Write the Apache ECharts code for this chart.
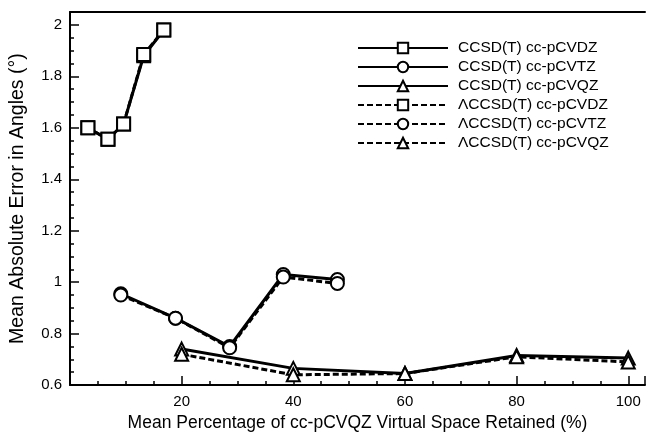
<!DOCTYPE html>
<html>
<head>
<meta charset="utf-8">
<script src="https://cdn.jsdelivr.net/npm/echarts@6/dist/echarts.min.js"></script>
<style>html,body{margin:0;padding:0;background:#fff}#c{width:648px;height:437px}</style>
</head>
<body>
<div id="c"></div>
<script>
var xTicks = [20, 40, 60, 80, 100];
var yTicks = [0.6, 0.8, 1, 1.2, 1.4, 1.6, 1.8, 2];

var dzX = [3.2, 6.8, 9.6, 13.2, 16.8];
var ccsdDZ = [1.60, 1.555, 1.615, 1.88, 1.98];
var lccsdDZ = [1.60, 1.555, 1.615, 1.885, 1.98];

var tzX = [9.1, 18.9, 28.6, 38.2, 47.9];
var ccsdTZ = [0.955, 0.86, 0.75, 1.03, 1.01];
var lccsdTZ = [0.95, 0.86, 0.745, 1.02, 0.995];

var qzX = [20, 40, 60, 80, 100];
var ccsdQZ = [0.74, 0.665, 0.645, 0.715, 0.705];
var lccsdQZ = [0.72, 0.64, 0.645, 0.71, 0.69];

var names = ['CCSD(T) cc-pCVDZ', 'CCSD(T) cc-pCVTZ', 'CCSD(T) cc-pCVQZ',
             '\u039BCCSD(T) cc-pCVDZ', '\u039BCCSD(T) cc-pCVTZ', '\u039BCCSD(T) cc-pCVQZ'];

function pairs(xs, ys) { return xs.map(function (x, i) { return [x, ys[i]]; }); }

function mk(name, xs, ys, sym, dashed, size) {
  return {
    name: name, type: 'line', data: pairs(xs, ys), xAxisIndex: 0,
    symbol: sym, symbolSize: size, showSymbol: true,
    lineStyle: { color: '#000', width: 3, type: dashed ? [6, 3] : 'solid' },
    itemStyle: { color: '#fff', borderColor: '#000', borderWidth: 2 },
    emphasis: { disabled: true }, animation: false
  };
}

var font = 'Liberation Sans, Arial, sans-serif';
var chart = echarts.init(document.getElementById('c'));
chart.setOption({
  animation: false,
  grid: { left: 70, right: 0, top: 12, bottom: 49 },
  legend: {
    data: names, orient: 'vertical', left: 357, top: 40, padding: 0,
    itemWidth: 90, itemHeight: 13, itemGap: 3,
    textStyle: { fontFamily: font, fontSize: 15.5, color: '#000', padding: [0, 0, 0, 5] }
  },
  xAxis: [{
    type: 'value', min: 0, max: 103, interval: 20,
    name: 'Mean Percentage of cc-pCVQZ Virtual Space Retained (%)',
    nameLocation: 'middle', nameGap: 28,
    nameTextStyle: { fontFamily: font, fontSize: 17.5, color: '#000' },
    axisLine: { lineStyle: { color: '#000', width: 2 } },
    axisTick: { inside: true, length: 9, lineStyle: { color: '#000', width: 1.5 } },
    minorTick: { show: true, splitNumber: 4, length: 4, lineStyle: { color: '#000', width: 1.5 } },
    axisLabel: { fontFamily: font, fontSize: 15, color: '#000', margin: 9,
      formatter: function (v) { return xTicks.indexOf(Math.round(v * 100) / 100) >= 0 ? String(v) : ''; } },
    splitLine: { show: false }
  }, {
    type: 'value', min: 0, max: 103, position: 'top',
    axisLine: { show: true, onZero: false, lineStyle: { color: '#000', width: 2 } },
    axisTick: { show: false }, axisLabel: { show: false }, splitLine: { show: false }
  }],
  yAxis: {
    type: 'value', min: 0.6, max: 2.05, interval: 0.2,
    name: 'Mean Absolute Error in Angles (\u00B0)',
    nameLocation: 'middle', nameGap: 42,
    nameTextStyle: { fontFamily: font, fontSize: 19.5, color: '#000' },
    axisLine: { lineStyle: { color: '#000', width: 2 } },
    axisTick: { inside: true, length: 9, lineStyle: { color: '#000', width: 1.5 } },
    minorTick: { show: true, splitNumber: 4, length: 4, lineStyle: { color: '#000', width: 1.5 } },
    axisLabel: { fontFamily: font, fontSize: 15, color: '#000', margin: 8,
      formatter: function (v) {
        var r = Math.round(v * 100) / 100;
        return yTicks.indexOf(r) >= 0 ? String(r) : '';
      } },
    splitLine: { show: false }
  },
  series: [
    mk(names[0], dzX, ccsdDZ, 'rect', false, 13),
    mk(names[1], tzX, ccsdTZ, 'circle', false, 13),
    mk(names[2], qzX, ccsdQZ, 'triangle', false, 13),
    mk(names[3], dzX, lccsdDZ, 'rect', true, 13),
    mk(names[4], tzX, lccsdTZ, 'circle', true, 13),
    mk(names[5], qzX, lccsdQZ, 'triangle', true, 13)
  ]
});
</script>
</body>
</html>
